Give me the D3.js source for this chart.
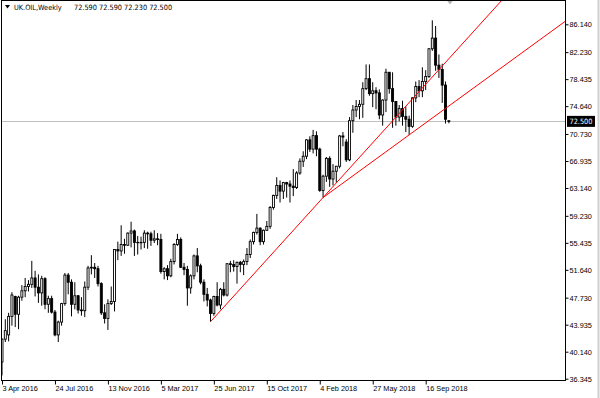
<!DOCTYPE html>
<html>
<head>
<meta charset="utf-8">
<script src="https://cdn.jsdelivr.net/npm/d3@7"></script>
<style>
  body { margin: 0; background: #fff; }
  svg { display: block; font-family: "DejaVu Sans Condensed", "DejaVu Sans", sans-serif; }
</style>
</head>
<body>
<svg id="root" width="600" height="398"></svg>
<script>
const symbol = 'UK.OIL,Weekly';
const lastQuote = '72.590 72.590 72.230 72.500';
const firstWeek = '3 Apr 2016';

// weekly OHLC, one entry per week from firstWeek
const opens = [38.7, 41.9, 42.5, 45.1, 47.9, 45.4, 47.8, 48.7, 49.3, 49.6, 50.5, 49.2, 48.4, 50.4, 46.8, 47.6, 45.7, 42.5, 44.3, 46.9,
  50.9, 49.9, 46.8, 48.0, 46.0, 45.9, 49.2, 51.9, 52.0, 51.8, 49.7, 45.6, 44.8, 46.9, 47.2, 54.5, 54.3, 55.2, 55.1, 56.8,
  57.1, 55.5, 55.5, 55.5, 56.8, 56.7, 55.8, 56.0, 55.9, 51.4, 51.8, 50.8, 52.8, 55.2, 55.9, 52.0, 51.7, 49.1, 50.8, 53.6,
  52.2, 49.9, 48.2, 47.4, 45.5, 47.9, 46.7, 48.9, 48.1, 52.5, 52.4, 52.1, 52.7, 52.4, 52.8, 53.8, 55.6, 56.9, 57.5, 55.6,
  57.2, 57.75, 60.4, 62.1, 63.5, 62.7, 63.9, 63.7, 63.4, 63.2, 65.25, 66.9, 67.6, 69.9, 68.6, 70.5, 68.6, 62.8, 64.8, 67.3,
  64.4, 65.5, 66.2, 70.45, 69.6, 67.1, 72.6, 74.1, 74.6, 74.9, 77.1, 78.5, 76.4, 76.8, 76.5, 73.4, 75.5, 79.4, 77.1, 75.3,
  73.1, 74.3, 73.2, 72.8, 71.8, 75.8, 77.4, 76.8, 78.1, 78.8, 82.7, 84.2, 80.4, 79.8, 77.6, 72.59];
const highs = [42.0, 44.7, 45.6, 48.5, 48.0, 48.0, 49.5, 50.5, 50.2, 52.9, 51.5, 51.0, 50.8, 50.6, 48.0, 48.0, 46.0, 44.5, 47.0, 51.2,
  51.2, 50.3, 49.9, 48.1, 47.8, 50.0, 52.2, 53.7, 52.6, 52.2, 49.9, 46.8, 47.5, 49.3, 54.5, 55.6, 57.9, 56.0, 56.9, 58.4,
  57.3, 56.4, 56.3, 57.2, 57.0, 57.0, 57.2, 56.8, 56.7, 52.0, 52.3, 53.2, 55.4, 56.7, 56.2, 52.6, 52.2, 51.0, 53.8, 54.7,
  52.5, 50.3, 49.1, 47.6, 48.0, 49.9, 49.1, 49.9, 52.6, 52.9, 53.0, 52.8, 52.9, 53.1, 54.7, 55.9, 57.0, 59.5, 57.6, 57.3,
  58.5, 60.6, 62.2, 64.65, 64.2, 64.0, 64.0, 64.2, 65.8, 65.5, 67.3, 68.3, 70.0, 70.4, 71.3, 71.1, 68.8, 65.0, 67.5, 67.6,
  66.5, 66.2, 70.6, 71.0, 70.0, 73.1, 74.8, 75.5, 75.5, 78.0, 80.5, 80.5, 78.0, 77.3, 77.0, 75.6, 79.9, 79.4, 79.4, 75.3,
  74.8, 75.4, 74.6, 73.3, 75.9, 78.1, 78.3, 80.1, 79.7, 82.8, 86.7, 85.9, 81.9, 80.6, 78.1, 72.59];
const lows = [36.8, 41.5, 41.6, 43.8, 43.6, 43.3, 47.3, 47.8, 48.6, 49.1, 47.9, 47.0, 46.6, 46.1, 45.6, 45.5, 42.3, 41.5, 43.8, 46.6,
  48.2, 45.1, 46.1, 45.5, 45.2, 45.0, 48.8, 51.0, 50.5, 49.3, 45.3, 44.1, 43.2, 46.7, 45.8, 53.0, 53.6, 53.9, 55.0, 54.8,
  53.6, 53.8, 54.5, 54.7, 54.6, 55.0, 55.4, 55.1, 51.1, 50.3, 50.2, 50.6, 52.4, 55.0, 51.9, 50.9, 46.6, 48.3, 50.3, 51.3,
  49.6, 47.2, 46.5, 44.35, 45.2, 46.5, 46.1, 47.9, 47.9, 51.3, 51.4, 49.7, 51.3, 50.9, 52.3, 53.3, 55.2, 56.6, 55.1, 55.2,
  57.1, 57.4, 60.1, 61.6, 61.1, 61.6, 61.8, 61.1, 62.0, 63.0, 65.0, 66.1, 67.2, 68.2, 68.0, 67.6, 62.6, 61.8, 64.0, 63.3,
  63.5, 63.9, 65.9, 69.0, 66.8, 66.9, 70.9, 73.1, 72.8, 73.0, 76.9, 76.1, 74.5, 74.2, 72.8, 71.9, 73.8, 76.4, 71.6, 71.9,
  72.5, 71.9, 71.0, 70.6, 71.6, 75.2, 75.9, 75.9, 76.9, 78.6, 82.4, 79.6, 78.6, 75.1, 72.2, 72.23];
const closes = [41.9, 43.1, 45.1, 48.1, 45.4, 47.8, 48.7, 49.3, 49.6, 50.5, 49.2, 48.4, 50.4, 46.8, 47.6, 45.7, 42.5, 44.3, 46.9, 50.9,
  49.9, 46.8, 48.0, 46.0, 45.9, 49.2, 51.9, 52.0, 51.8, 49.7, 45.6, 44.8, 46.9, 47.2, 54.5, 54.3, 55.2, 55.1, 56.8, 57.1,
  55.5, 55.5, 55.5, 56.8, 56.7, 55.8, 56.0, 55.9, 51.4, 51.8, 50.8, 52.8, 55.2, 55.9, 52.0, 51.7, 49.1, 50.8, 53.6, 52.2,
  49.9, 48.2, 47.4, 45.5, 47.9, 46.7, 48.9, 48.1, 52.5, 52.4, 52.1, 52.7, 52.4, 52.8, 53.8, 55.6, 56.9, 57.5, 55.6, 57.2,
  57.75, 60.4, 62.1, 63.5, 62.7, 63.9, 63.7, 63.4, 63.2, 65.25, 66.9, 67.6, 69.9, 68.6, 70.5, 68.6, 62.8, 64.8, 67.3, 64.4,
  65.5, 66.2, 70.45, 70.3, 67.1, 72.6, 74.1, 74.6, 74.9, 77.1, 78.5, 76.4, 76.8, 76.5, 73.4, 75.5, 79.4, 77.1, 75.3, 73.1,
  74.3, 73.2, 72.8, 71.8, 75.8, 77.4, 76.8, 78.1, 78.8, 82.7, 84.2, 80.4, 79.8, 77.6, 72.8, 72.5];

const priceTicks = [86.140, 82.230, 78.435, 74.640, 70.730, 66.935, 63.140, 59.230, 55.435, 51.640, 47.730, 43.935, 40.140, 36.345];
const dateTicks = ['3 Apr 2016', '24 Jul 2016', '13 Nov 2016', '5 Mar 2017', '25 Jun 2017', '15 Oct 2017', '4 Feb 2018', '27 May 2018', '16 Sep 2018'];

// trend rays: drawn through two points and extended to the right
const trendA = [{ week: '18 Jun 2017', price: 44.35 }, { week: '11 Feb 2018', price: 61.8 }];
const trendB = [{ week: '11 Feb 2018', price: 61.8 }, { week: '12 Aug 2018', price: 70.6 }];
const bid = 72.5;

const frame = { left: 1.5, top: 0.5, right: 565.5, bottom: 380.5 };
const barStep = 3.31;
const fontSize = 7.3;

const parse = d3.utcParse('%d %b %Y');
const start = parse(firstWeek);
const bars = opens.map((o, i) => ({
  t: d3.utcWeek.offset(start, i), o: o, h: highs[i], l: lows[i], c: closes[i]
}));

const xScale = d3.scaleUtc()
  .domain([start, bars[bars.length - 1].t])
  .range([2, 2 + barStep * (bars.length - 1)]);
const yScale = d3.scaleLinear()
  .domain([36.345, 86.14])
  .range([378.7, 24.3]);

const chart = d3.select('#root');

chart.append('defs').append('clipPath').attr('id', 'plot-clip')
  .append('rect')
  .attr('x', frame.left).attr('y', frame.top)
  .attr('width', frame.right - frame.left).attr('height', frame.bottom - frame.top);

// window edge on the far right
chart.append('line')
  .attr('x1', 598.5).attr('x2', 598.5).attr('y1', 0).attr('y2', 398)
  .attr('stroke', '#d0d0d0').attr('stroke-width', 2);

const plot = chart.append('g').attr('clip-path', 'url(#plot-clip)');

// bid line
plot.append('line')
  .attr('x1', frame.left).attr('x2', frame.right)
  .attr('y1', Math.round(yScale(bid)) + 0.5).attr('y2', Math.round(yScale(bid)) + 0.5)
  .attr('stroke', '#c0c0c0');

// candles
const candle = plot.selectAll('.bar')
  .data(bars)
  .enter().append('g')
  .attr('class', 'bar')
  .attr('transform', d => `translate(${xScale(d.t)}, 0)`);

candle.append('line')
  .attr('y1', d => yScale(d.h))
  .attr('y2', d => yScale(d.l))
  .attr('stroke', '#000')
  .attr('stroke-width', 1);

candle.append('rect')
  .attr('x', -1)
  .attr('width', 2)
  .attr('y', d => yScale(Math.max(d.o, d.c)))
  .attr('height', d => Math.max(0.4, Math.abs(yScale(d.o) - yScale(d.c))))
  .attr('fill', d => d.c >= d.o ? '#fff' : '#000')
  .attr('stroke', '#000')
  .attr('stroke-width', 0.9);

// trend rays
function ray(pts) {
  const x1 = xScale(parse(pts[0].week)), y1 = yScale(pts[0].price);
  const x2 = xScale(parse(pts[1].week)), y2 = yScale(pts[1].price);
  const xEnd = 620;
  return [[x1, y1], [xEnd, y1 + (xEnd - x1) * (y2 - y1) / (x2 - x1)]];
}
[trendA, trendB].forEach(t => {
  plot.append('path')
    .attr('d', d3.line()(ray(t)))
    .attr('fill', 'none')
    .attr('stroke', '#ff0000')
    .attr('stroke-width', 1);
});

// chart shift marker
plot.append('path')
  .attr('d', 'M446.5,0 L453.5,0 L450,4.5 Z')
  .attr('fill', '#b4b4b4');

// frame
chart.append('rect')
  .attr('x', frame.left).attr('y', frame.top)
  .attr('width', frame.right - frame.left).attr('height', frame.bottom - frame.top)
  .attr('fill', 'none').attr('stroke', '#000');

// price axis
const axisY = d3.axisRight(yScale)
  .tickValues(priceTicks)
  .tickFormat(d3.format('.3f'))
  .tickSize(3)
  .tickSizeOuter(0);
chart.append('g')
  .attr('class', 'y axis')
  .attr('transform', `translate(${frame.right}, 0)`)
  .call(axisY)
  .call(g => g.select('.domain').remove())
  .call(g => g.selectAll('text').attr('x', 4).attr('fill', '#000').attr('font-size', fontSize).attr('font-family', null))
  .call(g => g.selectAll('line').attr('stroke', '#000'));

// bid label
const bidY = yScale(bid);
chart.append('rect')
  .attr('x', 567).attr('y', bidY - 5.5)
  .attr('width', 28).attr('height', 11)
  .attr('fill', '#000');
chart.append('text')
  .attr('x', 569.5).attr('y', bidY)
  .attr('dy', '0.34em')
  .attr('fill', '#fff')
  .attr('font-size', fontSize)
  .text(d3.format('.3f')(bid));

// time axis
const axisX = d3.axisBottom(xScale)
  .tickValues(dateTicks.map(parse))
  .tickFormat((d, i) => dateTicks[i])
  .tickSize(4)
  .tickSizeOuter(0);
chart.append('g')
  .attr('class', 'x axis')
  .attr('transform', `translate(0, ${frame.bottom})`)
  .call(axisX)
  .call(g => g.select('.domain').remove())
  .call(g => g.selectAll('text')
    .attr('text-anchor', 'start')
    .attr('x', 0)
    .attr('y', 10.5)
    .attr('dy', 0)
    .attr('fill', '#000')
    .attr('font-size', fontSize)
    .attr('font-family', null))
  .call(g => g.selectAll('line').attr('stroke', '#000'));

// header
const header = chart.append('g').attr('class', 'legend');
header.append('path').attr('d', 'M5,5 L10,5 L7.5,8.5 Z').attr('fill', '#000');
header.append('text')
  .attr('x', 14).attr('y', 9.5)
  .attr('font-size', fontSize)
  .attr('fill', '#000')
  .text(symbol);
header.append('text')
  .attr('x', 74).attr('y', 9.5)
  .attr('font-size', fontSize)
  .attr('fill', '#000')
  .text(lastQuote);
</script>
</body>
</html>
